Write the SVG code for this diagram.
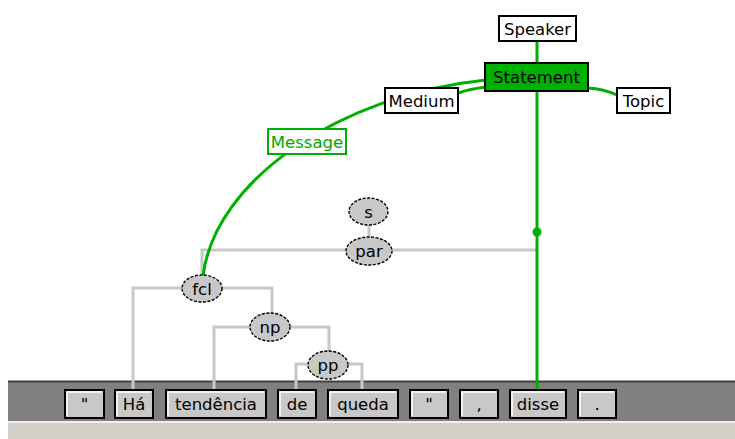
<svg xmlns="http://www.w3.org/2000/svg" width="735" height="439" viewBox="0 0 735 439">
  <style>
    text { font-family: "DejaVu Sans", "Liberation Sans", sans-serif; font-size: 16.5px; fill: #000; text-anchor: middle; }
    .frame { fill: #fff; stroke: #000; stroke-width: 2; }
    .stmt { fill: #00b000; stroke: #000; stroke-width: 2; }
    .msg { fill: #fff; stroke: #00b000; stroke-width: 2; }
    .msgtxt { fill: #00a800; }
    .tok { fill: #c8c8c8; stroke: #000; stroke-width: 2; }
    .hl { fill: none; stroke: #fff; stroke-width: 1.5; }
    .node { fill: #c8c8c8; stroke: #000; stroke-width: 1.4; stroke-dasharray: 3 1.5; }
    .tree { fill: none; stroke: #c8c8c8; stroke-width: 3; }
    .sem { fill: none; stroke: #00b000; stroke-width: 3; }
  </style>

  <rect x="0" y="0" width="735" height="439" fill="#fff"/>

  <!-- token bar -->
  <g id="bar">
    <rect x="8" y="381" width="727" height="40" fill="#808080"/>
    <rect x="8" y="380.5" width="727" height="2" fill="#404040"/>
    <rect x="8" y="421" width="727" height="2" fill="#f0f0f0"/>
    <rect x="8" y="423" width="727" height="16" fill="#d4d0c8"/>
  </g>

  <!-- connectors -->
  <g id="connectors">
    <!-- syntactic tree -->
    <path class="tree" d="M369 225 V237"/>
    <path class="tree" d="M537 250 H202 V276"/>
    <path class="tree" d="M182 288 H133 V389"/>
    <path class="tree" d="M222 288 H272 V313"/>
    <path class="tree" d="M250 327 H214 V389"/>
    <path class="tree" d="M290 327 H329 V351"/>
    <path class="tree" d="M308 364 H296 V389"/>
    <path class="tree" d="M348 364 H362 V389"/>
    <!-- semantic frame -->
    <path class="sem" d="M537 41 V389"/>
    <path class="sem" d="M203 276 C215 180 340 95 486 80"/>
    <path class="sem" d="M458 93 Q470 89 486 87"/>
    <path class="sem" d="M588 88 Q604 89 617 95"/>
    <circle cx="537" cy="232" r="4.5" fill="#00b000"/>
  </g>

  <!-- frame nodes -->
  <g id="speaker">
    <rect class="frame" x="499" y="16" width="77" height="25"/>
    <text x="537.5" y="34.5">Speaker</text>
  </g>
  <g id="statement">
    <rect class="stmt" x="485" y="63" width="103" height="28"/>
    <text x="536.5" y="83">Statement</text>
  </g>
  <g id="medium">
    <rect class="frame" x="385" y="88" width="73" height="25"/>
    <text x="421.5" y="106.5">Medium</text>
  </g>
  <g id="topic">
    <rect class="frame" x="617" y="88" width="53" height="25"/>
    <text x="643.5" y="106.5">Topic</text>
  </g>
  <g id="message">
    <rect class="msg" x="268" y="129" width="78" height="25"/>
    <text class="msgtxt" x="307" y="147.5">Message</text>
  </g>

  <!-- tree nodes -->
  <g id="s">
    <ellipse class="node" cx="368.5" cy="211.5" rx="19.5" ry="13.5"/>
    <text x="368.5" y="217.5">s</text>
  </g>
  <g id="par">
    <ellipse class="node" cx="369" cy="251" rx="23" ry="14"/>
    <text x="369" y="257">par</text>
  </g>
  <g id="fcl">
    <ellipse class="node" cx="202" cy="288.5" rx="20" ry="13.5"/>
    <text x="202" y="294.5">fcl</text>
  </g>
  <g id="np">
    <ellipse class="node" cx="270" cy="327" rx="20" ry="14"/>
    <text x="270" y="333">np</text>
  </g>
  <g id="pp">
    <ellipse class="node" cx="328" cy="365" rx="20" ry="14"/>
    <text x="328" y="371">pp</text>
  </g>

  <!-- tokens -->
  <g id="tok-q1">
    <rect class="tok" x="65" y="390" width="39" height="28"/>
    <path class="hl" d="M67 416 V392 H102"/>
    <text x="84.5" y="409.5">"</text>
  </g>
  <g id="tok-ha">
    <rect class="tok" x="115" y="390" width="38" height="28"/>
    <path class="hl" d="M117 416 V392 H151"/>
    <text x="134" y="409.5">Há</text>
  </g>
  <g id="tok-tendencia">
    <rect class="tok" x="166" y="390" width="100" height="28"/>
    <path class="hl" d="M168 416 V392 H264"/>
    <text x="216" y="409.5">tendência</text>
  </g>
  <g id="tok-de">
    <rect class="tok" x="278" y="390" width="38" height="28"/>
    <path class="hl" d="M280 416 V392 H314"/>
    <text x="297" y="409.5">de</text>
  </g>
  <g id="tok-queda">
    <rect class="tok" x="328" y="390" width="70" height="28"/>
    <path class="hl" d="M330 416 V392 H396"/>
    <text x="363" y="409.5">queda</text>
  </g>
  <g id="tok-q2">
    <rect class="tok" x="410" y="390" width="38" height="28"/>
    <path class="hl" d="M412 416 V392 H446"/>
    <text x="429" y="409.5">"</text>
  </g>
  <g id="tok-comma">
    <rect class="tok" x="460" y="390" width="38" height="28"/>
    <path class="hl" d="M462 416 V392 H496"/>
    <text x="479" y="409.5">,</text>
  </g>
  <g id="tok-disse">
    <rect class="tok" x="510" y="390" width="56" height="28"/>
    <path class="hl" d="M512 416 V392 H564"/>
    <text x="538" y="409.5">disse</text>
  </g>
  <g id="tok-period">
    <rect class="tok" x="578" y="390" width="38" height="28"/>
    <path class="hl" d="M580 416 V392 H614"/>
    <text x="597" y="409.5">.</text>
  </g>
</svg>
